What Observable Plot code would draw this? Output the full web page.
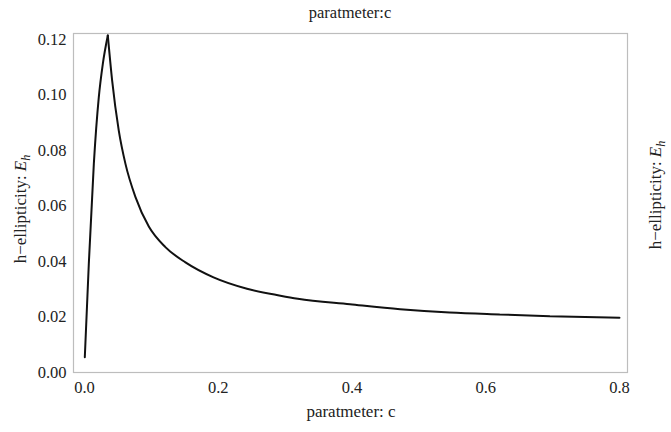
<!DOCTYPE html>
<html>
<head>
<meta charset="utf-8">
<script src="https://cdn.jsdelivr.net/npm/d3@7"></script>
<script src="https://cdn.jsdelivr.net/npm/@observablehq/plot@0.6"></script>
<style>
  html, body { margin: 0; padding: 0; background: #fff; }
  #chart { width: 671px; height: 432px; }
  #chart text { font-family: "Liberation Serif", "DejaVu Serif", serif; }
</style>
</head>
<body>
<div id="chart"></div>
<script>
// Values
const cValues = [0.0005, 0.0065, 0.014, 0.0214, 0.0274, 0.0349, 0.0414, 0.0513, 0.0613, 0.0763, 0.0962, 0.121, 0.151, 0.193, 0.243, 0.293, 0.319, 0.397, 0.472, 0.546, 0.621, 0.696, 0.80];
const ehValues = [0.0055, 0.0392, 0.0752, 0.0992, 0.1112, 0.1215, 0.1052, 0.0872, 0.0752, 0.0632, 0.0526, 0.0452, 0.0397, 0.0343, 0.0302, 0.0277, 0.0266, 0.0246, 0.0228, 0.0216, 0.0209, 0.0203, 0.0197];
const xTicks = [0.0, 0.2, 0.4, 0.6, 0.8];
const yTicks = [0.00, 0.02, 0.04, 0.06, 0.08, 0.10, 0.12];
const titleText = "paratmeter:c";
const xLabelText = "paratmeter: c";
const yLabelMain = "h\u2212ellipticity: ";
const yLabelSym = "E";
const yLabelSub = "h";

// split at the peak into a rising and a falling branch (sharp cusp, smooth branches)
const peak = ehValues.indexOf(d3.max(ehValues));
const data = [];
cValues.forEach((c, i) => {
  if (i <= peak) data.push({c, e: ehValues[i], branch: "rise"});
  if (i >= peak) data.push({c, e: ehValues[i], branch: "fall"});
});

const serif = "Liberation Serif, DejaVu Serif, serif";

const plot = Plot.plot({
  width: 671,
  height: 432,
  marginLeft: 73,
  marginRight: 44,
  marginTop: 33,
  marginBottom: 60,
  style: {fontFamily: serif, fontSize: "16px", color: "#222", background: "#fff"},
  x: {domain: [-0.0164, 0.812]},
  y: {domain: [0, 0.1222]},
  marks: [
    Plot.frame({stroke: "#bdbdbd", strokeWidth: 1.2}),
    Plot.axisX(xTicks, {anchor: "bottom", tickSize: 0, tickPadding: 9, tickFormat: d3.format(".1f"), label: null, fontSize: 16.5}),
    Plot.axisY(yTicks, {anchor: "left", tickSize: 0, tickPadding: 7, tickFormat: d3.format(".2f"), label: null, fontSize: 16.5}),
    Plot.line(data, {x: "c", y: "e", z: "branch", stroke: "#111", strokeWidth: 2, curve: "monotone-x", strokeLinejoin: "miter"})
  ]
});

document.getElementById("chart").appendChild(plot);

const svg = d3.select(plot);
// title
svg.append("text")
  .attr("x", 350).attr("y", 18)
  .attr("text-anchor", "middle")
  .attr("font-family", serif).attr("font-size", 16.5).attr("fill", "#222")
  .text(titleText);
// x label
svg.append("text")
  .attr("x", 351).attr("y", 417)
  .attr("text-anchor", "middle")
  .attr("font-family", serif).attr("font-size", 17).attr("fill", "#222")
  .text(xLabelText);
// y labels (left and right)
function yLabel(x, y, size) {
  const t = svg.append("text")
    .attr("transform", `translate(${x},${y}) rotate(-90)`)
    .attr("text-anchor", "middle")
    .attr("font-family", serif).attr("font-size", size).attr("fill", "#222");
  t.append("tspan").text(yLabelMain);
  t.append("tspan").attr("font-style", "italic").text(yLabelSym);
  t.append("tspan").attr("font-style", "italic").attr("font-size", size * 0.72).attr("dy", "0.3em").text(yLabelSub);
}
yLabel(26, 209, 17);
yLabel(661, 195, 17);
</script>
</body>
</html>
